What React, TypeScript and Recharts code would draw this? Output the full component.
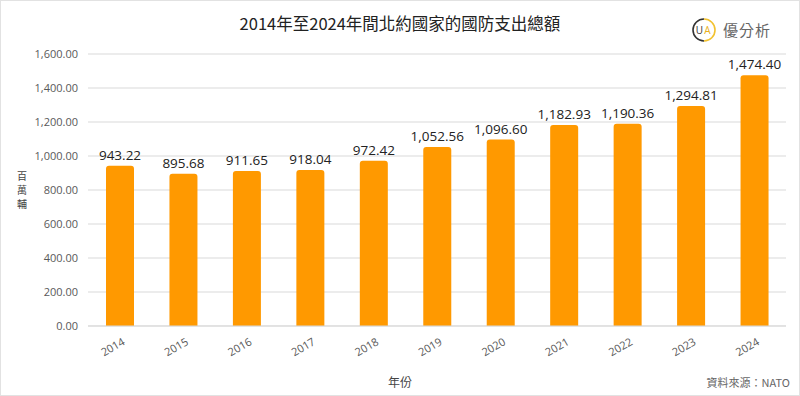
import { BarChart, Bar, XAxis, YAxis, CartesianGrid, LabelList } from 'recharts';

const years = ['2014', '2015', '2016', '2017', '2018', '2019', '2020', '2021', '2022', '2023', '2024'];
const spending = [943.22, 895.68, 911.65, 918.04, 972.42, 1052.56, 1096.6, 1182.93, 1190.36, 1294.81, 1474.4];
const yTicks = [0, 200, 400, 600, 800, 1000, 1200, 1400, 1600];
const yTitle = ['百', '萬', '輔'];

const data = years.map((y, i) => ({ year: y, value: spending[i] }));

const fmt = (v: number) =>
  v.toLocaleString('en-US', { minimumFractionDigits: 2, maximumFractionDigits: 2 });

const FONT = '"Open Sans", "Noto Sans CJK TC", sans-serif';
const CJK = '"Noto Sans CJK TC", sans-serif';

function YearTick({ x, y, payload }: any) {
  const tx = x + 6;
  const ty = y + 16;
  return (
    <text
      x={tx}
      y={ty}
      textAnchor="end"
      transform={`rotate(-30, ${tx}, ${ty})`}
      fontSize={11}
      fill="#595959"
      fontFamily={FONT}
    >
      {payload.value}
    </text>
  );
}

export default function App() {
  return (
    <div
      style={{
        position: 'absolute',
        left: 0,
        top: 0,
        width: 800,
        height: 396,
        background: '#fff',
        boxSizing: 'border-box',
        border: '1px solid #e2e2e2',
        fontFamily: CJK,
      }}
    >
      <div
        style={{
          position: 'absolute',
          top: 10,
          left: 0,
          width: 798,
          textAlign: 'center',
          fontSize: 16.5,
          color: '#222',
          lineHeight: '24px',
        }}
      >
        2014年至2024年間北約國家的國防支出總額
      </div>

      <svg width={26} height={26} style={{ position: 'absolute', left: 690, top: 16 }}>
        <path d="M13 2 A11 11 0 0 0 13 24" fill="none" stroke="#333" strokeWidth={1.6} />
        <path d="M13 2 A11 11 0 0 1 13 24" fill="none" stroke="#F2C230" strokeWidth={1.6} />
        <text x={8.5} y={17} fontSize={10} fill="#333" textAnchor="middle" fontFamily={FONT}>U</text>
        <text x={16.5} y={17} fontSize={10} fill="#E8B020" textAnchor="middle" fontFamily={FONT}>A</text>
      </svg>
      <div
        style={{
          position: 'absolute',
          left: 722,
          top: 16,
          fontSize: 15,
          color: '#666',
          letterSpacing: 1,
          lineHeight: '26px',
        }}
      >
        優分析
      </div>

      <svg width={30} height={56} style={{ position: 'absolute', left: 6, top: 160 }}>
        {yTitle.map((c, i) => (
          <text
            key={c}
            x={15}
            y={19 + i * 14}
            textAnchor="middle"
            fontSize={10}
            fill="#444"
            fontFamily={CJK}
          >
            {c}
          </text>
        ))}
      </svg>

      <BarChart
        width={798}
        height={394}
        data={data}
        margin={{ top: 53, right: 13, left: 0, bottom: 19 }}
      >
        <CartesianGrid vertical={false} stroke="#d9d9d9" />
        <XAxis
          dataKey="year"
          axisLine={{ stroke: '#d9d9d9' }}
          tickLine={false}
          tickSize={0}
          height={50}
          interval={0}
          tick={<YearTick />}
        />
        <YAxis
          width={87}
          domain={[0, 1600]}
          ticks={yTicks}
          axisLine={false}
          tickLine={false}
          tickSize={0}
          tickMargin={10}
          tickFormatter={fmt}
          tick={{ fontSize: 11, fill: '#595959', fontFamily: FONT }}
        />
        <Bar dataKey="value" fill="#FF9900" barSize={28} radius={[3, 3, 0, 0]} isAnimationActive={false}>
          <LabelList
            dataKey="value"
            position="top"
            offset={6}
            formatter={(v: any) => fmt(Number(v))}
            style={{ fontSize: 13.5, fill: '#222', fontFamily: FONT }}
          />
        </Bar>
      </BarChart>

      <div
        style={{
          position: 'absolute',
          top: 372,
          left: 0,
          width: 798,
          textAlign: 'center',
          fontSize: 12,
          color: '#444',
          lineHeight: '18px',
        }}
      >
        年份
      </div>
      <div
        style={{
          position: 'absolute',
          top: 373,
          right: 9,
          fontSize: 11,
          color: '#666',
          lineHeight: '16px',
        }}
      >
        資料來源：NATO
      </div>
    </div>
  );
}
